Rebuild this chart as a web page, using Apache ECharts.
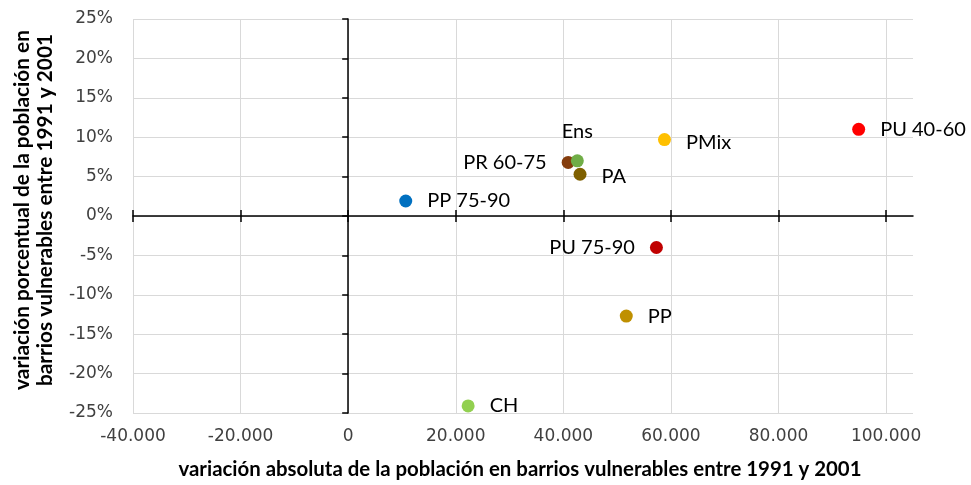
<!DOCTYPE html>
<html><head><meta charset="utf-8">
<script src="https://cdn.jsdelivr.net/npm/echarts@6/dist/echarts.min.js"></script>
<style>html,body{margin:0;padding:0;background:#fff}#c{width:971px;height:485px}</style>
</head><body><div id="c"></div>
<script>
const names = ['PP 75-90','PR 60-75','Ens','PA','PMix','PU 40-60','PU 75-90','PP','CH'];
const absVar = [10700, 40900, 42600, 43100, 58800, 94900, 57300, 51700, 22300];
const pctVar = [1.9, 6.8, 7.0, 5.3, 9.7, 11.0, -4.0, -12.7, -24.1];
const xTicks = [-40000, -20000, 0, 20000, 40000, 60000, 80000, 100000];
const yTicks = [-25, -20, -15, -10, -5, 0, 5, 10, 15, 20, 25];

const colors = ['#0070C0','#843C0C','#70AD47','#7F6000','#FFC000','#FF0000','#C00000','#BF9000','#92D050'];
const labelPos = ['right','left','top','right','right','right','left','right','right'];
const labelOff = [[0,0],[0,0],[0,0],[0,2],[0,3],[0,0],[0,0],[0,0],[0,0]];

const fmtX = v => {
  const s = Math.abs(v).toString().replace(/\B(?=(\d{3})+(?!\d))/g, '.');
  return (v < 0 ? '-' : '') + s;
};
const FONT = 'Lato';
const TICKFONT = 'DejaVu Sans';
const GRID_LEFT = 133;
const xBase = {type:'value', min:-40000, max:105000, interval:20000};
const yBase = {type:'value', min:-25, max:25, interval:5};

const chart = echarts.init(document.getElementById('c'), null, {renderer:'canvas'});
const option = {
  animation:false,
  grid:{left:GRID_LEFT, right:58, top:19, bottom:72},
  xAxis:[
    Object.assign({}, xBase, {
      position:'bottom',
      axisLine:{show:false}, axisTick:{show:false},
      axisLabel:{customValues:xTicks, formatter:fmtX, color:'#404040', fontFamily:TICKFONT, fontSize:17, margin:15},
      splitLine:{show:true, showMaxLine:false, lineStyle:{color:'#d9d9d9', width:1}}
    }),
    Object.assign({}, xBase, {
      position:'bottom',
      axisLine:{show:true, onZero:true, onZeroAxisIndex:0, lineStyle:{color:'#000', width:1.5}},
      axisTick:{show:true, customValues:xTicks, length:6, lineStyle:{color:'#000', width:1.5}},
      axisLabel:{show:false}, splitLine:{show:false}
    }),
    Object.assign({}, xBase, {
      position:'bottom',
      axisLine:{show:false, onZero:true, onZeroAxisIndex:0},
      axisTick:{show:true, inside:true, customValues:xTicks, length:6, lineStyle:{color:'#000', width:1.5}},
      axisLabel:{show:false}, splitLine:{show:false}
    })
  ],
  yAxis:[
    Object.assign({}, yBase, {
      position:'left',
      axisLine:{show:false}, axisTick:{show:false},
      axisLabel:{customValues:yTicks, formatter:v => v + '%', color:'#404040', fontFamily:TICKFONT, fontSize:17, margin:20},
      splitLine:{show:true, lineStyle:{color:'#d9d9d9', width:1}}
    }),
    Object.assign({}, yBase, {
      position:'left', offset:0,
      axisLine:{show:true, onZero:false, lineStyle:{color:'#000', width:1.5}},
      axisTick:{show:true, inside:false, length:6, lineStyle:{color:'#000', width:1.5}},
      axisLabel:{show:false}, splitLine:{show:false}
    })
  ],
  graphic:[
    {type:'text', x:520, y:459, style:{text:'variación absoluta de la población en barrios vulnerables entre 1991 y 2001', font:'bold 20.4px '+FONT, fill:'#000', align:'center', verticalAlign:'top'}},
    {type:'text', x:11, y:210, rotation:Math.PI/2, style:{text:'variación porcentual de la población en\nbarrios vulnerables entre 1991 y 2001', font:'bold 20.8px '+FONT, fill:'#000', align:'center', verticalAlign:'top', lineHeight:23}}
  ],
  series:[{
    type:'scatter', xAxisIndex:0, yAxisIndex:0,
    symbolSize:13,
    itemStyle:{opacity:1},
    data: names.map((n,i) => ({
      name:n, value:[absVar[i], pctVar[i]],
      itemStyle:{color:colors[i], opacity:1},
      label:{show:true, position:labelPos[i], offset:labelOff[i], distance:labelPos[i]==='top'?13:15, formatter:n, color:'#000', fontFamily:FONT, fontSize:20}
    }))
  }]
};
chart.setOption(option);
// place the vertical axis line at x = 0 using the library's own scale
const zeroX = chart.convertToPixel({xAxisIndex:0}, 0);
chart.setOption({yAxis:[{}, {offset: -(zeroX - GRID_LEFT)}]});
</script></body></html>
